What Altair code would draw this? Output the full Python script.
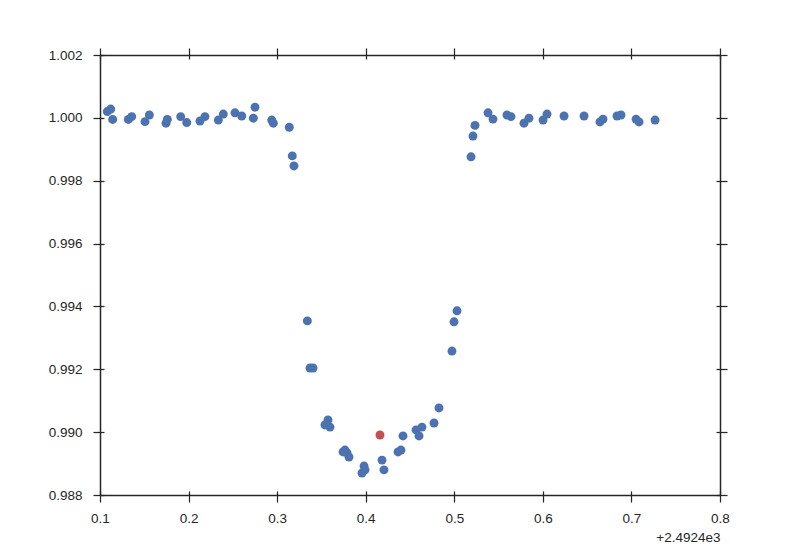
import altair as alt
import pandas as pd

# time minus 2492.4 (offset shown as +2.4924e3)
x_vals = [0.1082, 0.1121, 0.1143, 0.1320, 0.1358, 0.1508, 0.1557, 0.1745, 0.1760, 0.1911,
          0.1979, 0.2129, 0.2185, 0.2336, 0.2392, 0.2524, 0.2600, 0.2731, 0.2750, 0.2939,
          0.2957, 0.3137, 0.3171, 0.3190, 0.3341, 0.3371, 0.3405, 0.3574, 0.3540, 0.3597,
          0.3766, 0.3789, 0.3811, 0.3744, 0.3981, 0.3992, 0.3958, 0.4184, 0.4206, 0.4365,
          0.4398, 0.4421, 0.4568, 0.4635, 0.4602, 0.4771, 0.4827, 0.4974, 0.4997, 0.5031,
          0.5189, 0.5211, 0.5234, 0.5381, 0.5437, 0.5595, 0.5640, 0.5787, 0.5843, 0.6002,
          0.6047, 0.6239, 0.6465, 0.6645, 0.6679, 0.6837, 0.6882, 0.7052, 0.7086, 0.7267]
y_vals = [1.00020, 1.00028, 0.99995, 0.99995, 1.00004, 0.99988, 1.00009, 0.99983, 0.99995, 1.00004,
          0.99985, 0.99990, 1.00004, 0.99993, 1.00012, 1.00016, 1.00006, 0.99999, 1.00034, 0.99993,
          0.99983, 0.99970, 0.99879, 0.99847, 0.99354, 0.99204, 0.99204, 0.99039, 0.99023, 0.99016,
          0.98943, 0.98934, 0.98921, 0.98937, 0.98892, 0.98880, 0.98870, 0.98911, 0.98880, 0.98937,
          0.98943, 0.98988, 0.99007, 0.99016, 0.98988, 0.99029, 0.99077, 0.99258, 0.99351, 0.99386,
          0.99876, 0.99942, 0.99976, 1.00016, 0.99996, 1.00009, 1.00004, 0.99983, 0.99999, 0.99993,
          1.00012, 1.00006, 1.00006, 0.99987, 0.99996, 1.00006, 1.00009, 0.99996, 0.99987, 0.99993]
red_x = [0.4161]
red_y = [0.98991]

x_ticks = [0.1, 0.2, 0.3, 0.4, 0.5, 0.6, 0.7, 0.8]
y_ticks = [0.988, 0.990, 0.992, 0.994, 0.996, 0.998, 1.000, 1.002]
x_offset_label = "+2.4924e3"

blue = pd.DataFrame({"x": x_vals, "y": y_vals})
red = pd.DataFrame({"x": red_x, "y": red_y})

INK = "#262626"
FONT = "Liberation Sans"
xs = alt.Scale(domain=[0.1, 0.8], nice=False, zero=False)
ys = alt.Scale(domain=[0.988, 1.002], nice=False, zero=False)


def axes(xorient, yorient, main=False, inner=False):
    common = dict(grid=False, tickColor=INK, tickWidth=1.25, labelFlush=False)
    if inner:
        common.update(domain=False, labels=False, ticks=True, tickSize=4, offset=-4)
    else:
        common.update(domain=True, domainColor=INK, domainWidth=1.5, tickSize=7,
                      labels=main)
    if main:
        ax = alt.Axis(orient=xorient, values=x_ticks, format=".1f", labelFont=FONT,
                      labelFontSize=13.5, labelColor=INK, labelPadding=9,
                      title=x_offset_label, titleFont=FONT, titleFontSize=13.5,
                      titleFontWeight="normal", titleColor=INK, titleAnchor="end",
                      titleAlign="right", titlePadding=6, **common)
        ay = alt.Axis(orient=yorient, values=y_ticks, format=".3f", labelFont=FONT,
                      labelFontSize=13.5, labelColor=INK, labelPadding=11,
                      title=None, **common)
    else:
        ax = alt.Axis(orient=xorient, values=x_ticks, title=None, **common)
        ay = alt.Axis(orient=yorient, values=y_ticks, title=None, **common)
    return ax, ay


def layer(df, color, xorient, yorient, main=False, inner=False, opacity=1.0):
    ax, ay = axes(xorient, yorient, main, inner)
    return alt.Chart(df).mark_circle(size=80, color=color, opacity=opacity).encode(
        x=alt.X("x:Q", scale=xs, axis=ax),
        y=alt.Y("y:Q", scale=ys, axis=ay),
    )


main_layer = layer(blue, "#4C72B0", "bottom", "left", main=True)
top_layer = layer(blue, "#4C72B0", "top", "right", opacity=0)
inner_bl = layer(blue, "#4C72B0", "bottom", "left", inner=True, opacity=0)
inner_tr = layer(blue, "#4C72B0", "top", "right", inner=True, opacity=0)
red_layer = alt.Chart(red).mark_circle(size=80, color="#C44E52", opacity=1).encode(
    x=alt.X("x:Q", scale=xs, axis=None),
    y=alt.Y("y:Q", scale=ys, axis=None),
)

chart = alt.layer(main_layer, top_layer, inner_bl, inner_tr, red_layer).resolve_axis(
    x="independent", y="independent"
).properties(
    width=620, height=440,
    autosize=alt.AutoSizeParams(type="none"),
    padding={"left": 92, "top": 47, "right": 72, "bottom": 55},
    background="white",
).configure_view(stroke=None)

chart.save("out.html", embed_options={"renderer": "svg", "actions": False})
